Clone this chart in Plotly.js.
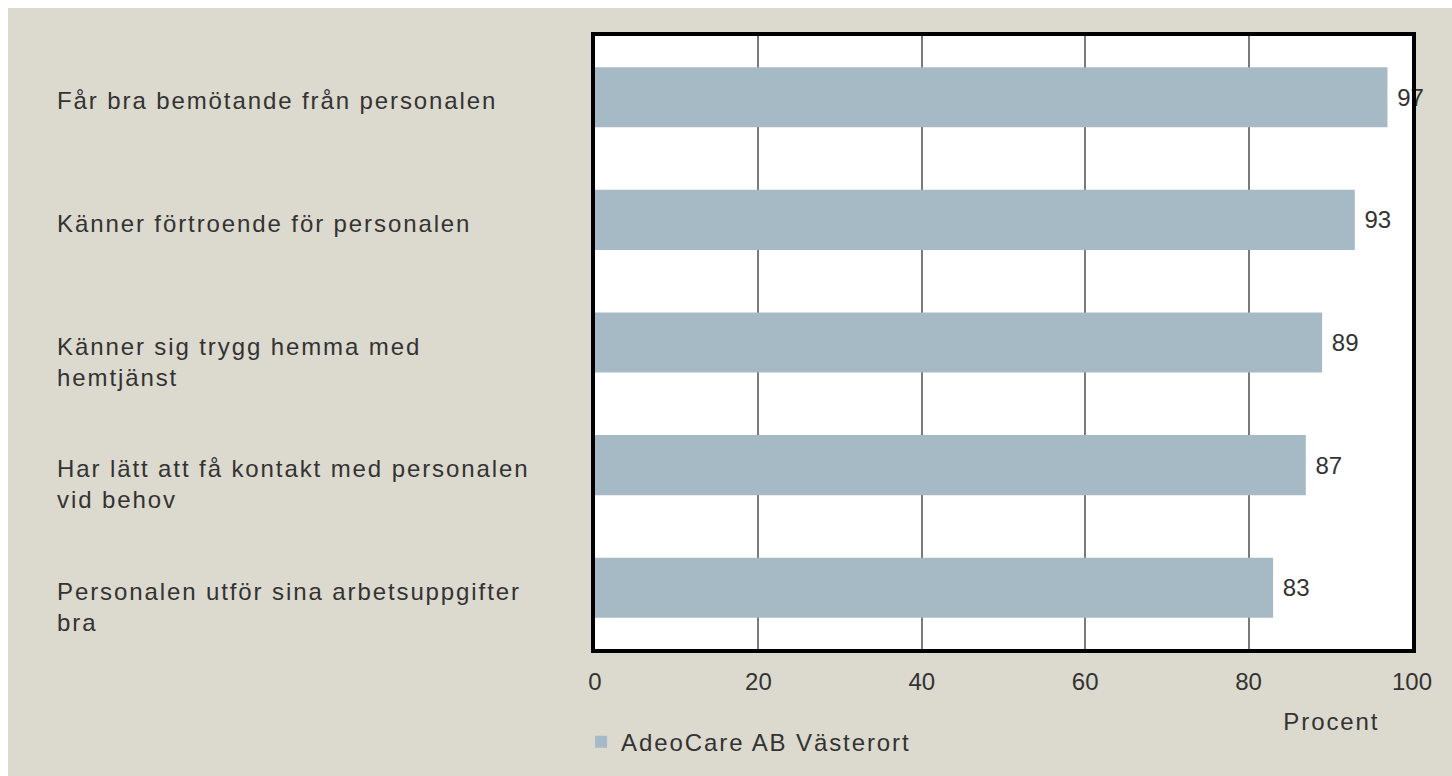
<!DOCTYPE html>
<html>
<head>
<meta charset="utf-8">
<script src="https://cdn.plot.ly/plotly-3.0.1.min.js"></script>
<style>
html,body{margin:0;padding:0;background:#ffffff;}
#chart{position:absolute;left:8px;top:8px;width:1444px;height:768px;}
#chart .annotation-text, #chart .legendtext{letter-spacing:1.9px;}
</style>
</head>
<body>
<div id="chart"></div>
<script>
const categories = [
  "Får bra bemötande från personalen",
  "Känner förtroende för personalen",
  "Känner sig trygg hemma med<br>hemtjänst",
  "Har lätt att få kontakt med personalen<br>vid behov",
  "Personalen utför sina arbetsuppgifter<br>bra"
];
const values = [97, 93, 89, 87, 83];
const seriesName = "AdeoCare AB Västerort";
const tickVals = [0, 20, 40, 60, 80, 100];
const xTitle = "Procent";

const font = "Liberation Sans, Arial, sans-serif";
const textColor = "#333333";
const fs = 24;

const trace = {
  type: "bar",
  orientation: "h",
  x: values,
  y: categories,
  name: seriesName,
  marker: {color: "#a6bac5"},
  width: 0.49,
  text: values.map(String),
  texttemplate: "\u00a0%{text}",
  textposition: "outside",
  constraintext: "none",
  cliponaxis: false,
  outsidetextfont: {family: font, size: fs, color: textColor},
  hoverinfo: "x+y"
};

const annotations = [];
categories.forEach((c) => {
  annotations.push({
    xref: "paper", yref: "y", x: -0.661, y: c,
    text: c, showarrow: false, xanchor: "left", yanchor: "top", yshift: 12, align: "left",
    font: {family: font, size: fs, color: textColor}
  });
});
annotations.push({
  xref: "paper", yref: "paper", x: 0.902, y: -0.118,
  text: xTitle, showarrow: false, xanchor: "center", yanchor: "middle",
  font: {family: font, size: fs, color: textColor}
});

const layout = {
  width: 1444, height: 768,
  paper_bgcolor: "#dcd9ce",
  plot_bgcolor: "#ffffff",
  margin: {l: 587, r: 40, t: 28, b: 126},
  showlegend: true,
  legend: {
    orientation: "h", x: -0.017, xanchor: "left", y: -0.15, yanchor: "middle",
    font: {family: font, size: fs, color: textColor},
    bgcolor: "rgba(0,0,0,0)", itemwidth: 30,
    entrywidth: 340, entrywidthmode: "pixels"
  },
  xaxis: {
    range: [0, 100], tickvals: tickVals, ticktext: tickVals.map(String),
    showgrid: true, gridcolor: "#7a7a7a", gridwidth: 2,
    zeroline: false, showline: true, mirror: true, linecolor: "#000000", linewidth: 4,
    ticks: "", ticklen: 0, ticklabelstandoff: 8,
    tickfont: {family: font, size: fs, color: textColor},
    fixedrange: true
  },
  yaxis: {
    autorange: "reversed", showticklabels: false, showgrid: false,
    zeroline: false, showline: true, mirror: true, linecolor: "#000000", linewidth: 4,
    ticks: "", fixedrange: true
  },
  annotations: annotations,
  font: {family: font, color: textColor}
};

Plotly.newPlot("chart", [trace], layout, {displayModeBar: false, staticPlot: true});
</script>
</body>
</html>
